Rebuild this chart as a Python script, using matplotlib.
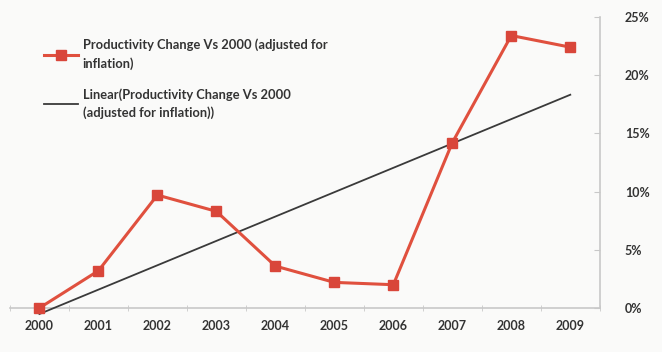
import matplotlib
matplotlib.use("Agg")
import matplotlib.pyplot as plt
import numpy as np
from matplotlib.ticker import FuncFormatter, FixedLocator

years = ["2000", "2001", "2002", "2003", "2004", "2005", "2006", "2007", "2008", "2009"]
productivity = [0.0, 3.2, 9.7, 8.3, 3.6, 2.2, 2.0, 14.2, 23.4, 22.4]
y_ticks = [0, 5, 10, 15, 20, 25]

label_main = "Productivity Change Vs 2000 (adjusted for\ninflation)"
label_trend = "Linear(Productivity Change Vs 2000\n(adjusted for inflation))"

plt.rcParams['font.family'] = ['Lato', 'DejaVu Sans']

fig = plt.figure(figsize=(6.62, 3.52), dpi=100)
bg = '#fafaf9'
fig.patch.set_facecolor(bg)
ax = fig.add_axes([0.015, 0.125, 0.891, 0.827])
ax.set_facecolor(bg)

x = np.arange(len(years))
ax.plot(x, productivity, color='#e0503e', lw=2.2, marker='s', markersize=6.5,
        markerfacecolor='#d9463a', markeredgecolor='#d9463a', label=label_main, zorder=3,
        clip_on=False)
coef = np.polyfit(x, productivity, 1)
ax.plot(x, np.polyval(coef, x), color='#3a3a3a', lw=1.3, label=label_trend, zorder=2,
        clip_on=False)

ax.set_xlim(-0.5, len(years) - 0.5)
ax.set_ylim(0, 25)
ax.yaxis.tick_right()
ax.set_yticks(y_ticks)
ax.yaxis.set_major_formatter(FuncFormatter(lambda v, p: f"{int(v)}%"))
ax.set_xticks(x)
ax.set_xticklabels(years)
ax.xaxis.set_minor_locator(FixedLocator(np.arange(-0.5, len(years), 1.0)))
ax.tick_params(axis='x', which='major', length=0, pad=9, labelsize=9, labelcolor='#333333')
ax.tick_params(axis='x', which='minor', length=5, direction='inout', color='#c8c8c8')
ax.tick_params(axis='y', length=4, direction='in', color='#c8c8c8', pad=18,
               labelsize=9, labelcolor='#333333')
for lbl in ax.get_xticklabels() + ax.get_yticklabels():
    lbl.set_fontweight('bold')

for s in ['top', 'left']:
    ax.spines[s].set_visible(False)
ax.spines['bottom'].set_color('#c8c8c8')
ax.spines['right'].set_color('#c8c8c8')
ax.spines['bottom'].set_linewidth(1.2)
ax.spines['right'].set_linewidth(1.2)
ax.spines['bottom'].set_zorder(1)

leg = ax.legend(loc='upper left', bbox_to_anchor=(0.038, 0.965), frameon=False,
                prop={'size': 9.3, 'weight': 'bold'}, handlelength=2.6, labelspacing=1.4,
                handletextpad=0.4)
for t in leg.get_texts():
    t.set_color('#333333')
    t.set_linespacing(1.55)

fig.savefig("out.png", dpi=100, facecolor=bg)
